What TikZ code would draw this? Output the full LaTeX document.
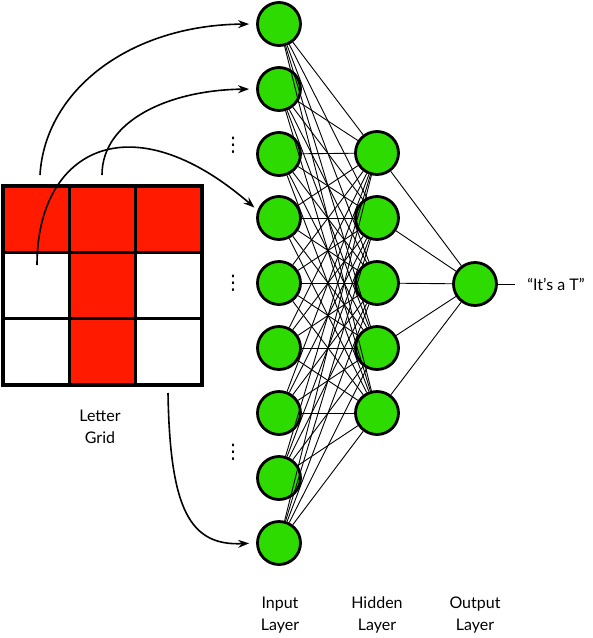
\documentclass[tikz,border=0pt]{standalone}
\usepackage{fontspec}
\setmainfont{Lato}
\newfontfamily\dotfont{DejaVu Sans}
\usetikzlibrary{arrows.meta}
\definecolor{cellred}{RGB}{255,26,0}
\definecolor{unitgreen}{RGB}{46,219,0}
\begin{document}
\begin{tikzpicture}[x=1pt, y=-1pt, >={Stealth[length=11pt, width=8pt]}]
\useasboundingbox (0,0) rectangle (593,638);
\tikzstyle{every node} = [circle, draw, line width=2.8pt, fill=unitgreen, minimum size=43pt, inner sep=0pt]
% input layer
\node (i1) at (279,24) {};
\node (i2) at (279,89) {};
\node (i3) at (279,154) {};
\node (i4) at (279,218) {};
\node (i5) at (279,283) {};
\node (i6) at (279,348) {};
\node (i7) at (279,413) {};
\node (i8) at (279,478) {};
\node (i9) at (279,543) {};
% hidden layer
\node (h1) at (377,153) {};
\node (h2) at (377,218) {};
\node (h3) at (377,283) {};
\node (h4) at (377,348) {};
\node (h5) at (377,413) {};
% output layer
\node (o) at (475,284) {};
\tikzstyle{every node} = [font=\fontsize{16}{22}\selectfont, align=center, inner sep=2pt]
\node[font=\dotfont\fontsize{20}{20}\selectfont] (d1) at (233,145) {⋮};
\node[font=\dotfont\fontsize{20}{20}\selectfont] (d2) at (233,283) {⋮};
\node[font=\dotfont\fontsize{20}{20}\selectfont] (d3) at (233,452) {⋮};
\node (grid) at (100,427) {Letter\\Grid};
\node (inl) at (280,615) {Input\\Layer};
\node (hidl) at (377,615) {Hidden\\Layer};
\node (outl) at (475,615) {Output\\Layer};
\node (ans) at (556,284) {``It's a T''};
% connections
\foreach \i in {1,...,9}
  \foreach \h in {1,...,5}
    \draw[line width=0.9pt] (i\i) -- (h\h);
\foreach \h in {1,...,5}
  \draw[line width=0.9pt] (h\h) -- (o);
\draw[line width=0.9pt, shorten >=10pt] (o) -- (ans);
% letter grid
\fill[cellred] (3,186) rectangle (202,252);
\fill[cellred] (69,252) rectangle (136,385);
\foreach \k in {1,2} {
  \draw[line width=3.5pt] (3+66.33*\k,186) -- (3+66.33*\k,385);
  \draw[line width=3.5pt] (3,186+66.33*\k) -- (202,186+66.33*\k);
}
\draw[line width=4pt] (3,186) rectangle (202,385);
% arrows from the grid
\coordinate (s1) at (40,175);
\coordinate (s2) at (102,175);
\coordinate (s3) at (37,265);
\coordinate (s4) at (168,393);
\draw[->, line width=1.6pt, shorten >=7pt] (s1) .. controls (45,90) and (130,25) .. (i1.west);
\draw[->, line width=1.6pt, shorten >=7pt] (s2) .. controls (102,120) and (170,90) .. (i2.west);
\draw[->, line width=1.6pt, shorten >=4pt] (s3) .. controls (37,150) and (130,100) .. (i4.160);
\draw[->, line width=1.6pt, shorten >=7pt] (s4) .. controls (170,510) and (190,546) .. (i9.west);
\end{tikzpicture}
\end{document}
